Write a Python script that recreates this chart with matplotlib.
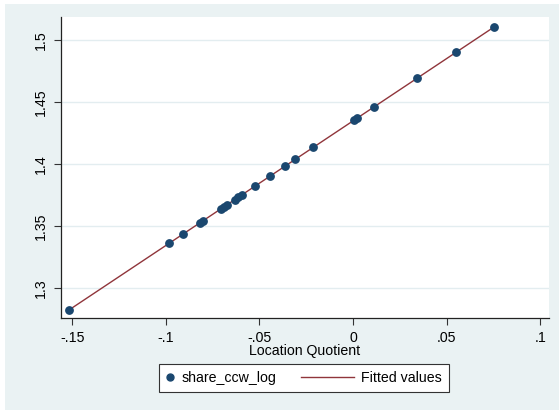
import numpy as np
import matplotlib.pyplot as plt
from matplotlib.patches import Rectangle
from matplotlib.lines import Line2D
from matplotlib.legend_handler import HandlerLine2D

plt.rcParams['font.family'] = ['Liberation Sans', 'DejaVu Sans']

# location quotient (x) and share_ccw_log (y)
lq = [-0.1517, -0.0983, -0.0908, -0.0820, -0.0800, -0.0708, -0.0691,
      -0.0673, -0.0632, -0.0614, -0.0596, -0.0523, -0.0442, -0.0365,
      -0.0308, -0.0214, 0.0004, 0.0021, 0.0112, 0.0342, 0.0549, 0.0753]
share_ccw_log = [1.2825, 1.3362, 1.3437, 1.3526, 1.3546, 1.3638, 1.3655,
                 1.3673, 1.3715, 1.3733, 1.3751, 1.3824, 1.3906, 1.3983,
                 1.4041, 1.4135, 1.4354, 1.4371, 1.4463, 1.4694, 1.4902, 1.5107]
xticks = [-0.15, -0.1, -0.05, 0, 0.05, 0.1]
xticklabels = ['-.15', '-.1', '-.05', '0', '.05', '.1']
yticks = [1.3, 1.35, 1.4, 1.45, 1.5]
yticklabels = ['1.3', '1.35', '1.4', '1.45', '1.5']

bg = '#eaf2f3'
navy = '#1a476f'
maroon = '#90353b'
fs = 10.2


class LongLine(HandlerLine2D):
    # legend key line that reaches further left than the handle box
    def create_artists(self, legend, orig_handle, xdescent, ydescent,
                       width, height, fontsize, trans):
        y = height / 2 - ydescent
        ln = Line2D([width - 38 - xdescent, width - xdescent], [y, y],
                    color=orig_handle.get_color(), lw=orig_handle.get_linewidth())
        ln.set_transform(trans)
        return [ln]


fig = plt.figure(figsize=(5.59, 4.12), dpi=100, facecolor='white')
fig.patches.append(Rectangle((5 / 559, 2 / 412), 554 / 559, 406 / 412,
                             transform=fig.transFigure, facecolor=bg,
                             edgecolor='none', zorder=-10))

ax = fig.add_axes([61 / 559, 1 - 318 / 412, 488 / 559, 300.7 / 412])
ax.set_facecolor('white')

# linear fit
b, a = np.polyfit(lq, share_ccw_log, 1)
xs = np.array([min(lq), max(lq)])
fit_line, = ax.plot(xs, a + b * xs, color=maroon, lw=1.0, zorder=2,
                    label='Fitted values')
pts, = ax.plot(lq, share_ccw_log, 'o', color=navy, ms=5.3, mec=navy, zorder=3,
               label='share_ccw_log')

ax.set_xlim(-0.156, 0.1046)
ax.set_ylim(1.276, 1.5185)
ax.set_xticks(xticks)
ax.set_xticklabels(xticklabels)
ax.set_yticks(yticks)
ax.set_yticklabels(yticklabels, rotation=90, va='center')
ax.yaxis.grid(True, color='#e3edf0', lw=1.0)
ax.set_axisbelow(True)

for s in ['top', 'right']:
    ax.spines[s].set_visible(False)
for s in ['left', 'bottom']:
    ax.spines[s].set_color('#222222')
    ax.spines[s].set_linewidth(0.9)

ax.tick_params(axis='both', direction='out', length=5, width=0.8,
               color='#333333', labelsize=fs)
ax.tick_params(axis='x', pad=4)
ax.tick_params(axis='y', pad=4.5)
ax.set_xlabel('Location Quotient', fontsize=fs, labelpad=0)

leg = fig.legend([pts, fit_line], ['share_ccw_log', 'Fitted values'],
                 handler_map={fit_line: LongLine()},
                 loc='center', bbox_to_anchor=(304 / 559, 1 - 378 / 412),
                 ncol=2, frameon=True, fancybox=False, framealpha=1,
                 fontsize=fs, handlelength=0.6, columnspacing=4.9,
                 handletextpad=0.5, borderpad=0.5, borderaxespad=0)
leg.get_frame().set_edgecolor('#333333')
leg.get_frame().set_linewidth(0.8)
leg.legend_handles[0].set_markersize(5)

fig.savefig('out.png', dpi=100, facecolor=fig.get_facecolor())
